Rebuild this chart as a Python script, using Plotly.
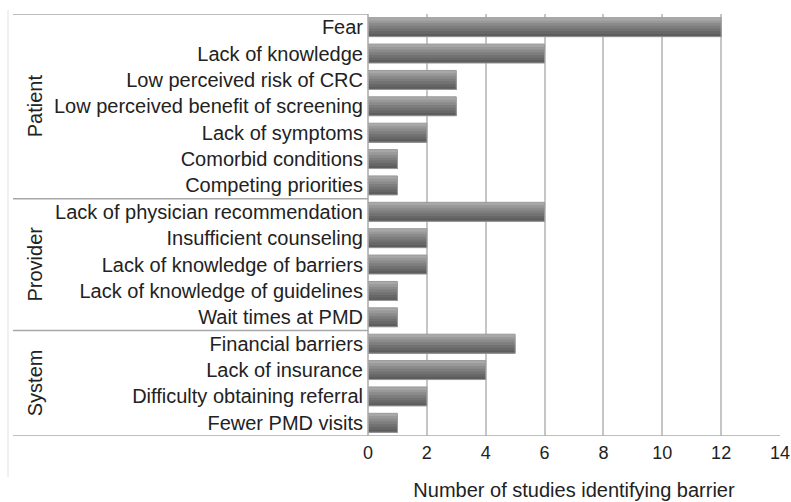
import plotly.graph_objects as go

categories = [
    "Fear", "Lack of knowledge", "Low perceived risk of CRC",
    "Low perceived benefit of screening", "Lack of symptoms",
    "Comorbid conditions", "Competing priorities",
    "Lack of physician recommendation", "Insufficient counseling",
    "Lack of knowledge of barriers", "Lack of knowledge of guidelines",
    "Wait times at PMD",
    "Financial barriers", "Lack of insurance",
    "Difficulty obtaining referral", "Fewer PMD visits",
]
values = [12, 6, 3, 3, 2, 1, 1, 6, 2, 2, 1, 1, 5, 4, 2, 1]
groups = ["Patient", "Provider", "System"]
group_sizes = [7, 5, 4]
x_ticks = [0, 2, 4, 6, 8, 10, 12, 14]
x_title = "Number of studies identifying barrier"

FONT = "Liberation Sans, Arial, sans-serif"
TXT = "#222222"
LINE = "#a8a8a8"

fig = go.Figure()

# gradient bars built from overlapping strips (light top -> dark bottom)
strip_colors = ["#a8a8a8", "#999999", "#8b8b8b", "#7e7e7e", "#727272", "#676767", "#5d5d5d"]
bw = 0.72
n = len(strip_colors)
sw = bw / n
for k, c in enumerate(strip_colors):
    fig.add_trace(go.Bar(
        x=values, y=categories, orientation="h",
        width=bw - k * sw, offset=-bw / 2 + k * sw,
        marker=dict(color=c, line=dict(width=0)),
        showlegend=False, hoverinfo="skip",
    ))
# outline
fig.add_trace(go.Bar(
    x=values, y=categories, orientation="h",
    width=bw, offset=-bw / 2,
    marker=dict(color="rgba(0,0,0,0)", line=dict(color="#9a9a9a", width=1)),
    showlegend=False,
))

L, R, T, B = 368, 11, 14, 66
W, H = 791, 502
pw = W - L - R
ph = H - T - B
px = lambda p: (p - L) / pw  # pixel -> paper x

shapes = []
start = 0
bounds = [-0.5]
for s in group_sizes:
    start += s
    bounds.append(start - 0.5)
for b in bounds:
    shapes.append(dict(type="line", xref="paper", yref="y", x0=px(13), x1=0 if b != bounds[-1] else 1,
                       y0=b, y1=b, line=dict(color=LINE, width=1.5), layer="above"))
shapes.append(dict(type="line", xref="paper", yref="y", x0=0, x1=0, y0=-0.5, y1=bounds[-1],
                   line=dict(color=LINE, width=1.5), layer="above"))
shapes.append(dict(type="line", xref="paper", yref="paper", x0=px(8), x1=px(8),
                   y0=1 + 4 / ph, y1=-(477 - (H - B)) / ph,
                   line=dict(color="#e2e2e2", width=1)))

annotations = []
start = 0
for g, s in zip(groups, group_sizes):
    mid = start + (s - 1) / 2
    annotations.append(dict(text=g, xref="paper", yref="y", x=px(35), y=mid,
                            xanchor="center", yanchor="middle",
                            textangle=-90, showarrow=False,
                            font=dict(family=FONT, size=20, color=TXT)))
    start += s

fig.update_layout(
    width=W, height=H,
    margin=dict(l=L, r=R, t=T, b=B, autoexpand=False),
    barmode="overlay",
    plot_bgcolor="white", paper_bgcolor="white",
    shapes=shapes, annotations=annotations,
    font=dict(family=FONT, color=TXT),
    xaxis=dict(range=[0, 14], tickvals=x_ticks, showgrid=True, gridcolor="#c6c6c6", gridwidth=1.5,
               zeroline=False, showline=False, ticks="", automargin=False, ticklabelstandoff=4,
               tickfont=dict(family=FONT, size=18, color=TXT),
               title=dict(text=x_title, font=dict(family=FONT, size=20, color=TXT), standoff=20)),
    yaxis=dict(range=[len(categories) - 0.5, -0.5], showgrid=False, zeroline=False, automargin=False,
               ticks="", ticklabelstandoff=4, tickfont=dict(family=FONT, size=20, color=TXT)),
)

fig.write_html("out.html", config={"displayModeBar": False},
               post_script="document.body.style.margin='0';document.body.style.overflow='hidden';")
